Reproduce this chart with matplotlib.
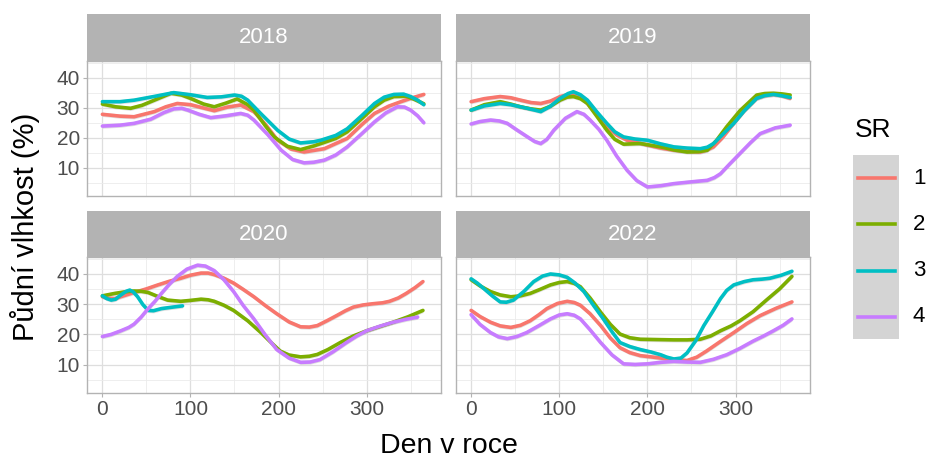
import matplotlib
matplotlib.use("Agg")
import matplotlib.pyplot as plt
from matplotlib.patches import Rectangle

plt.rcParams["font.family"] = ["Liberation Sans", "DejaVu Sans"]

W, H = 928, 461

years = ["2018", "2019", "2020", "2022"]
groups = ["1", "2", "3", "4"]
colors = ["#F8766D", "#7CAE00", "#00BFC4", "#C77CFF"]

# (day, soil moisture %) per year and SR group
d18_1 = [0, 20, 36, 59, 72, 85, 100, 112, 127, 142, 157, 172, 185, 199, 214, 229, 252, 278, 295, 309, 325, 339, 352, 365]
v18_1 = [27.8, 27.2, 27.0, 28.7, 30.3, 31.4, 31.0, 30.1, 29.0, 30.2, 30.9, 28.7, 24.5, 19.2, 16.3, 15.3, 16.4, 19.8, 24.5, 28.1, 30.5, 32.0, 33.3, 34.4]
d18_2 = [0, 15, 32, 45, 59, 78, 90, 100, 115, 127, 140, 153, 165, 172, 185, 195, 210, 225, 240, 248, 265, 278, 295, 309, 320, 331, 345, 354, 365]
v18_2 = [31.2, 30.3, 29.8, 30.8, 32.5, 34.8, 34.2, 33.1, 31.2, 30.3, 31.5, 32.9, 31.0, 29.2, 24.0, 20.3, 17.2, 16.1, 17.3, 18.1, 19.8, 22.0, 26.5, 30.3, 32.5, 33.7, 33.8, 32.8, 31.3]
d18_3 = [0, 20, 36, 60, 81, 100, 119, 135, 150, 158, 165, 180, 199, 212, 225, 240, 248, 265, 278, 295, 309, 320, 331, 342, 350, 358, 365]
v18_3 = [32.0, 32.0, 32.5, 33.8, 35.0, 34.3, 33.4, 33.6, 34.2, 33.8, 32.5, 28.0, 22.5, 19.6, 18.3, 18.7, 19.2, 20.8, 23.0, 27.5, 31.4, 33.5, 34.4, 34.5, 33.7, 32.5, 31.0]
d18_4 = [0, 20, 36, 55, 70, 81, 90, 97, 110, 123, 140, 157, 165, 172, 188, 203, 216, 229, 240, 252, 265, 278, 295, 309, 322, 335, 343, 350, 358, 365]
v18_4 = [23.9, 24.2, 24.8, 26.2, 28.4, 29.6, 29.8, 29.2, 27.8, 26.7, 27.3, 28.1, 27.5, 25.9, 21.0, 15.9, 12.8, 11.7, 11.9, 12.6, 14.3, 17.0, 21.5, 25.3, 28.3, 30.3, 30.2, 29.2, 27.3, 25.0]

d19_1 = [0, 15, 33, 45, 56, 68, 79, 90, 101, 116, 124, 132, 143, 154, 165, 177, 200, 215, 230, 245, 260, 268, 275, 285, 298, 310, 324, 333, 343, 352, 362]
v19_1 = [32.0, 33.0, 33.7, 33.3, 32.5, 31.7, 31.4, 32.2, 33.7, 34.8, 33.6, 31.4, 27.5, 23.7, 21.0, 19.2, 17.6, 16.6, 15.9, 15.5, 15.3, 16.0, 17.0, 20.0, 24.8, 29.0, 33.1, 34.0, 34.4, 34.0, 33.1]
d19_2 = [0, 15, 33, 45, 56, 68, 79, 90, 101, 109, 116, 124, 132, 143, 154, 163, 173, 192, 215, 230, 245, 258, 268, 278, 290, 305, 324, 333, 343, 352, 362]
v19_2 = [29.2, 31.0, 32.0, 31.2, 30.3, 29.6, 29.2, 30.5, 32.5, 33.5, 33.7, 33.0, 31.4, 27.0, 22.5, 19.5, 17.9, 18.1, 17.0, 16.0, 15.3, 15.4, 15.9, 19.0, 23.7, 29.0, 34.2, 34.7, 34.8, 34.6, 34.2]
d19_3 = [0, 15, 33, 45, 56, 68, 79, 90, 101, 110, 116, 124, 132, 143, 154, 163, 173, 186, 200, 215, 230, 245, 260, 268, 275, 285, 298, 310, 324, 333, 343, 352, 362]
v19_3 = [29.2, 30.6, 31.4, 31.0, 30.3, 29.5, 28.7, 30.5, 33.1, 34.7, 35.3, 34.3, 32.5, 28.5, 24.8, 22.0, 20.3, 19.6, 19.2, 18.0, 17.0, 16.6, 16.4, 16.9, 18.1, 21.0, 24.8, 29.0, 33.1, 34.0, 34.4, 34.0, 33.4]
d19_4 = [0, 10, 22, 32, 41, 52, 64, 72, 79, 86, 94, 107, 120, 128, 135, 145, 154, 165, 177, 188, 200, 215, 230, 250, 268, 276, 283, 293, 305, 317, 328, 345, 362]
v19_4 = [24.6, 25.4, 25.9, 25.6, 24.8, 22.6, 20.3, 18.8, 18.1, 19.5, 22.6, 26.5, 28.7, 27.8, 25.9, 22.8, 19.2, 14.0, 9.2, 5.8, 3.7, 4.1, 4.8, 5.4, 5.9, 6.8, 8.1, 11.2, 14.8, 18.4, 21.4, 23.3, 24.2]

d20_1 = [0, 7, 14, 25, 36, 50, 63, 76, 89, 100, 112, 120, 127, 138, 149, 160, 172, 185, 198, 212, 225, 235, 244, 255, 266, 276, 285, 296, 307, 318, 326, 336, 345, 355, 364]
v20_1 = [32.4, 31.9, 31.8, 32.8, 33.8, 35.0, 36.3, 37.5, 38.5, 39.5, 40.2, 40.2, 39.7, 38.5, 36.9, 34.8, 32.4, 29.5, 26.8, 24.1, 22.5, 22.4, 22.9, 24.5, 26.2, 27.8, 29.0, 29.7, 30.1, 30.4, 30.9, 32.0, 33.5, 35.4, 37.4]
d20_2 = [0, 14, 25, 36, 44, 52, 62, 74, 89, 100, 112, 120, 127, 138, 149, 165, 180, 192, 202, 212, 225, 235, 244, 256, 270, 285, 300, 315, 330, 347, 364]
v20_2 = [32.7, 33.5, 34.0, 34.3, 34.2, 33.8, 32.6, 31.3, 30.9, 31.2, 31.6, 31.4, 30.9, 29.6, 27.9, 24.5, 20.6, 17.2, 14.5, 13.2, 12.6, 12.8, 13.4, 15.0, 17.3, 19.5, 21.2, 22.6, 24.0, 25.8, 27.9]
d20_3 = [0, 5, 10, 15, 21, 27, 31, 35, 40, 46, 52, 58, 67, 80, 91]
v20_3 = [32.7, 31.8, 31.3, 31.6, 33.0, 34.2, 34.6, 34.0, 32.4, 29.8, 27.9, 27.8, 28.5, 29.0, 29.4]
d20_4 = [0, 10, 21, 30, 36, 44, 52, 60, 67, 76, 85, 96, 108, 117, 127, 138, 149, 160, 172, 185, 198, 212, 225, 236, 247, 262, 277, 289, 300, 315, 330, 345, 358]
v20_4 = [19.3, 20.0, 21.2, 22.3, 23.4, 25.7, 28.5, 31.0, 33.5, 36.5, 39.1, 41.5, 42.8, 42.5, 41.0, 38.0, 34.1, 29.5, 25.1, 19.8, 15.0, 12.2, 10.8, 10.9, 11.7, 14.3, 17.3, 19.5, 21.2, 22.7, 24.0, 25.0, 25.7]

d22_1 = [0, 10, 22, 33, 45, 56, 67, 77, 86, 98, 109, 117, 124, 135, 147, 158, 169, 180, 192, 204, 215, 230, 245, 256, 267, 282, 298, 313, 328, 346, 364]
v22_1 = [27.9, 25.9, 24.0, 22.8, 22.3, 23.0, 24.5, 26.5, 28.5, 30.2, 30.9, 30.5, 29.6, 26.8, 22.9, 18.8, 15.6, 14.0, 13.0, 12.6, 12.2, 11.7, 11.4, 12.5, 14.5, 17.5, 20.6, 23.6, 26.2, 28.6, 30.7]
d22_2 = [0, 10, 22, 33, 45, 56, 67, 78, 90, 100, 109, 117, 124, 135, 147, 158, 169, 180, 192, 210, 230, 245, 260, 272, 283, 295, 305, 320, 335, 350, 364]
v22_2 = [38.0, 36.0, 34.1, 33.0, 32.4, 32.7, 33.5, 34.8, 36.3, 37.1, 37.4, 36.8, 35.7, 32.0, 27.3, 23.3, 20.1, 18.9, 18.4, 18.3, 18.2, 18.2, 18.4, 19.5, 21.2, 22.8, 24.5, 27.5, 31.3, 35.0, 39.1]
d22_3 = [0, 7, 14, 24, 33, 40, 48, 60, 71, 81, 90, 100, 109, 118, 128, 139, 150, 160, 169, 180, 192, 204, 215, 222, 230, 238, 245, 255, 264, 274, 283, 290, 298, 310, 320, 330, 339, 352, 364]
v22_3 = [38.3, 36.9, 35.2, 32.7, 30.7, 30.6, 31.3, 34.2, 37.4, 39.2, 39.9, 39.6, 38.8, 36.9, 34.1, 29.5, 25.1, 20.8, 17.3, 16.0, 15.0, 14.2, 13.3, 12.5, 11.9, 12.2, 13.9, 18.0, 22.9, 27.5, 31.8, 34.5, 36.3, 37.4, 38.0, 38.2, 38.5, 39.5, 40.8]
d22_4 = [0, 10, 22, 31, 41, 52, 63, 77, 90, 100, 109, 117, 124, 135, 147, 160, 173, 186, 200, 215, 230, 245, 260, 275, 290, 305, 320, 332, 343, 354, 364]
v22_4 = [26.5, 23.3, 20.6, 19.2, 18.6, 19.3, 20.6, 22.9, 25.1, 26.4, 26.8, 26.3, 25.1, 21.5, 17.3, 13.2, 10.3, 10.1, 10.3, 10.8, 11.1, 10.9, 10.8, 11.8, 13.3, 15.4, 17.8, 19.5, 21.2, 23.0, 25.1]

series = {
    "2018": [(d18_1, v18_1), (d18_2, v18_2), (d18_3, v18_3), (d18_4, v18_4)],
    "2019": [(d19_1, v19_1), (d19_2, v19_2), (d19_3, v19_3), (d19_4, v19_4)],
    "2020": [(d20_1, v20_1), (d20_2, v20_2), (d20_3, v20_3), (d20_4, v20_4)],
    "2022": [(d22_1, v22_1), (d22_2, v22_2), (d22_3, v22_3), (d22_4, v22_4)],
}

x_ticks = [0, 100, 200, 300]
y_ticks = [10, 20, 30, 40]


def box(x0, y0, x1, y1):
    # pixel box (top-left origin) -> figure fraction rect
    return [x0 / W, 1 - y1 / H, (x1 - x0) / W, (y1 - y0) / H]


fig = plt.figure(figsize=(W / 100, H / 100), dpi=100)

cols = [(87, 441), (455.7, 810)]
rows = [(14, 61, 196), (211, 257, 393)]

for i, yr in enumerate(years):
    r, c = divmod(i, 2)
    x0, x1 = cols[c]
    s0, p0, p1 = rows[r]

    sax = fig.add_axes(box(x0, s0, x1, p0))
    sax.set_facecolor("#B3B3B3")
    sax.set_xticks([])
    sax.set_yticks([])
    for sp in sax.spines.values():
        sp.set_visible(False)
    sax.text(0.5, 0.5, yr, color="white", fontsize=16, ha="center", va="center",
             transform=sax.transAxes)

    ax = fig.add_axes(box(x0, p0, x1, p1))
    ax.set_xlim(-17.5, 384.5)
    ax.set_ylim(0.7, 45.5)
    ax.set_xticks(x_ticks)
    ax.set_yticks(y_ticks)
    ax.set_xticks([50, 150, 250, 350], minor=True)
    ax.set_yticks([5, 15, 25, 35, 45], minor=True)
    ax.grid(True, which="major", color="#DEDEDE", lw=0.9)
    ax.grid(True, which="minor", color="#EBEBEB", lw=0.6)
    ax.set_axisbelow(True)
    for sp in ax.spines.values():
        sp.set_color("#B3B3B3")
        sp.set_linewidth(1.0)
    ax.tick_params(which="major", color="#B3B3B3", length=3, labelsize=15,
                   labelcolor="#4D4D4D", pad=2)
    ax.tick_params(which="minor", length=0)
    if c == 1:
        ax.tick_params(axis="y", labelleft=False, length=0)
    if r == 0:
        ax.tick_params(axis="x", labelbottom=False, length=0)

    for (d, v), col in zip(series[yr], colors):
        ax.fill_between(d, [a - 0.7 for a in v], [a + 0.7 for a in v],
                        color="#999999", alpha=0.3, lw=0)
        ax.plot(d, v, color=col, lw=2.6, solid_joinstyle="round",
                solid_capstyle="round")

fig.text(448.5 / W, 1 - 446 / H, "Den v roce", fontsize=20.5, ha="center", va="center")
fig.text(25 / W, 1 - 227 / H, "Půdní vlhkost (%)", fontsize=21, rotation=90,
         ha="center", va="center")

# legend
fig.text(873 / W, 1 - 130 / H, "SR", fontsize=19, ha="center", va="center")
fig.patches.append(Rectangle((853 / W, 1 - 339 / H), 46 / W, 184 / H,
                             transform=fig.transFigure, facecolor="#D4D4D4",
                             edgecolor="none"))
key_y = [178, 224, 271, 317]
for g, col, ky in zip(groups, colors, key_y):
    fig.add_artist(plt.Line2D([858 / W, 895 / W], [1 - ky / H, 1 - ky / H],
                              color=col, lw=2.6, transform=fig.transFigure))
    fig.text(913 / W, 1 - ky / H, g, fontsize=16, ha="left", va="center")

fig.savefig("out.png", dpi=100)
